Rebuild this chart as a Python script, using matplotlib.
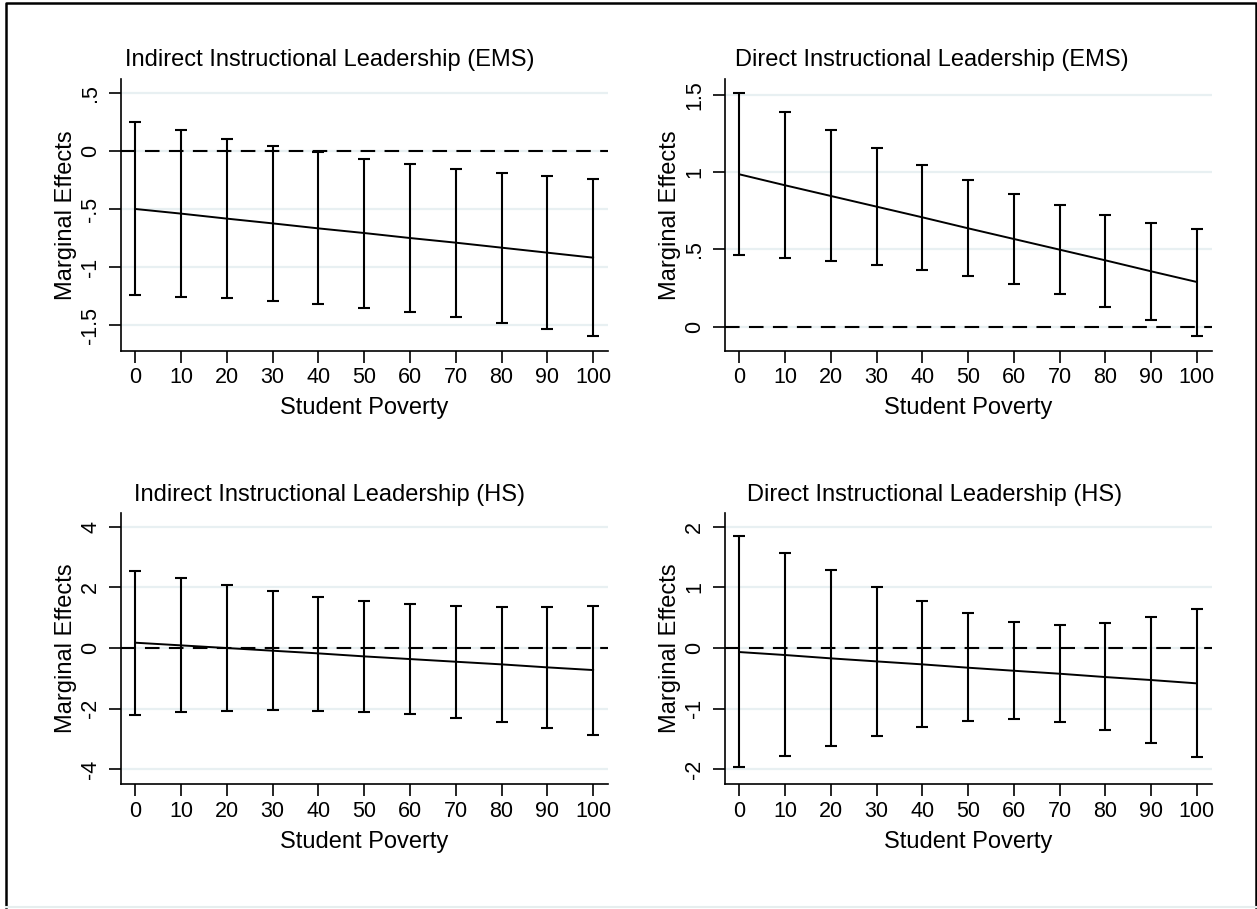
import matplotlib
matplotlib.use("Agg")
import matplotlib.pyplot as plt
from matplotlib.lines import Line2D

plt.rcParams['font.family'] = ['Liberation Sans', 'DejaVu Sans']

# student poverty levels
poverty = [0, 10, 20, 30, 40, 50, 60, 70, 80, 90, 100]

# Indirect Instructional Leadership (EMS)
ind_ems_est = [-0.499, -0.539, -0.582, -0.623, -0.666, -0.706, -0.749, -0.789, -0.832, -0.875, -0.918]
ind_ems_hi = [0.250, 0.178, 0.106, 0.043, -0.006, -0.066, -0.115, -0.152, -0.192, -0.218, -0.238]
ind_ems_lo = [-1.240, -1.254, -1.268, -1.288, -1.317, -1.349, -1.386, -1.429, -1.481, -1.532, -1.593]

# Direct Instructional Leadership (EMS)
dir_ems_est = [0.985, 0.914, 0.845, 0.776, 0.707, 0.636, 0.567, 0.498, 0.429, 0.358, 0.289]
dir_ems_hi = [1.509, 1.386, 1.269, 1.153, 1.047, 0.950, 0.860, 0.784, 0.722, 0.672, 0.634]
dir_ems_lo = [0.466, 0.446, 0.425, 0.399, 0.366, 0.325, 0.274, 0.209, 0.129, 0.041, -0.063]

# Indirect Instructional Leadership (HS)
ind_hs_est = [0.176, 0.088, 0.0, -0.088, -0.176, -0.275, -0.363, -0.451, -0.538, -0.637, -0.725]
ind_hs_hi = [2.549, 2.297, 2.066, 1.879, 1.692, 1.560, 1.451, 1.385, 1.352, 1.352, 1.385]
ind_hs_lo = [-2.198, -2.121, -2.077, -2.055, -2.066, -2.110, -2.187, -2.308, -2.451, -2.637, -2.857]

# Direct Instructional Leadership (HS)
dir_hs_est = [-0.066, -0.115, -0.170, -0.220, -0.269, -0.324, -0.374, -0.423, -0.478, -0.527, -0.582]
dir_hs_hi = [1.846, 1.560, 1.280, 1.011, 0.775, 0.571, 0.429, 0.379, 0.412, 0.505, 0.648]
dir_hs_lo = [-1.967, -1.780, -1.610, -1.445, -1.308, -1.203, -1.176, -1.225, -1.357, -1.560, -1.797]

W, H = 1257, 909
fig = plt.figure(figsize=(W / 100, H / 100), dpi=100)
fig.patch.set_facecolor('white')

grid_col = '#e8f0f2'
tick_fs = 15.5
lab_fs = 17

panels = [
    # title, est, hi, lo, yticks, yticklabels, ylim, (left, top, right, bottom) px, title center x, title y
    ('Indirect Instructional Leadership (EMS)', ind_ems_est, ind_ems_hi, ind_ems_lo,
     [-1.5, -1, -0.5, 0, 0.5], ['-1.5', '-1', '-.5', '0', '.5'], (-1.719, 0.62),
     (120.7, 79, 608.2, 350.7), 329.5, 60),
    ('Direct Instructional Leadership (EMS)', dir_ems_est, dir_ems_hi, dir_ems_lo,
     [0, 0.5, 1, 1.5], ['0', '.5', '1', '1.5'], (-0.155, 1.601),
     (724.7, 79, 1212, 350.7), 932, 60),
    ('Indirect Instructional Leadership (HS)', ind_hs_est, ind_hs_hi, ind_hs_lo,
     [-4, -2, 0, 2, 4], ['-4', '-2', '0', '2', '4'], (-4.48, 4.46),
     (120.7, 512.7, 608.2, 784), 330, 495),
    ('Direct Instructional Leadership (HS)', dir_hs_est, dir_hs_hi, dir_hs_lo,
     [-2, -1, 0, 1, 2], ['-2', '-1', '0', '1', '2'], (-2.24, 2.23),
     (724.7, 512.7, 1212, 784), 935, 495),
]

for title, est, hi, lo, yt, ytl, ylim, box, tx, ty in panels:
    l, t, r, b = box
    ax = fig.add_axes([l / W, 1 - b / H, (r - l) / W, (b - t) / H])
    ax.set_facecolor('white')
    for y in yt:
        ax.axhline(y, color=grid_col, lw=1.6, zorder=0)
    ax.axhline(0, color='black', lw=1.5, dashes=(7, 4.5), zorder=1)
    ax.plot(poverty, est, color='black', lw=1.4, zorder=3)
    yerr = [[e - lo_ for e, lo_ in zip(est, lo)], [hi_ - e for e, hi_ in zip(est, hi)]]
    ax.errorbar(poverty, est, yerr=yerr, fmt='none', ecolor='black', elinewidth=1.5,
                capsize=4, capthick=1.5, zorder=3)
    ax.set_xlim(-3.2, 103.3)
    ax.set_ylim(*ylim)
    ax.set_xticks(poverty)
    ax.set_xticklabels([str(p) for p in poverty], fontsize=tick_fs)
    ax.set_yticks(yt)
    ax.set_yticklabels(ytl, rotation=90, va='center', fontsize=tick_fs)
    ax.spines['top'].set_visible(False)
    ax.spines['right'].set_visible(False)
    ax.spines['left'].set_linewidth(1.2)
    ax.spines['bottom'].set_linewidth(1.2)
    ax.tick_params(direction='out', length=8.5, width=1.2, color='black')
    ax.tick_params(axis='x', pad=3.5)
    ax.tick_params(axis='y', pad=5.5)
    ax.set_xlabel('Student Poverty', fontsize=lab_fs, labelpad=6.5)
    ax.set_ylabel('Marginal Effects', fontsize=lab_fs, labelpad=2)
    fig.text(tx / W, 1 - ty / H, title, ha='center', va='center', fontsize=lab_fs)

# outer frame of the graph region
fig.add_artist(Line2D([6.3 / W, 6.3 / W, 1255.8 / W, 1255.8 / W], [2.5 / H, 1 - 2.5 / H, 1 - 2.5 / H, 2.5 / H],
                      transform=fig.transFigure, color='black', lw=1.8))
fig.add_artist(Line2D([6.3 / W, 1255.8 / W], [2.5 / H, 2.5 / H], transform=fig.transFigure,
                      color='#e6eeee', lw=1.5))

fig.savefig('out.png', dpi=100)
